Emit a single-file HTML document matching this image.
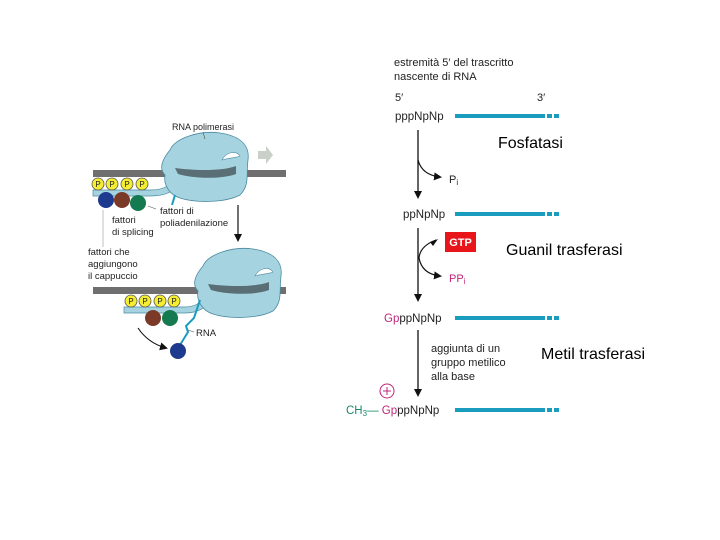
<!DOCTYPE html>
<html><head><meta charset="utf-8"><style>
html,body{margin:0;padding:0;background:#fff;}
svg{display:block;}
text{font-family:"Liberation Sans",sans-serif;}
</style></head><body>
<svg width="720" height="540" viewBox="0 0 720 540" xmlns="http://www.w3.org/2000/svg">
<defs>
<marker id="ah" markerWidth="8" markerHeight="8" refX="6" refY="4" orient="auto" markerUnits="userSpaceOnUse"><path d="M0,0 L8,4 L0,8 Z" fill="#111"/></marker>
</defs>
<!-- LEFT TOP -->
<rect x="93" y="170" width="193" height="7" fill="#6f6f6f"/>
<path d="M93,190 L150,190 C165,190 170,185 175,178 L180,182 C175,192 165,196 150,196 L93,196 Z" fill="#a6d3e0" stroke="#4a8aa0" stroke-width="0.7"/>
<path d="M170,150 C175,138 200,130 220,133 C240,136 250,145 248,160 C246,175 250,185 240,195 C225,203 195,203 180,198 C170,195 163,185 165,175 C160,170 160,162 170,150 Z" fill="#a6d3e0" stroke="#4a8aa0" stroke-width="0.8"/>
<path d="M175,168 C190,170 220,172 236,166 L236,174 C220,180 190,178 178,174 Z" fill="#5a6f75"/>
<path d="M222,160 C226,152 236,150 240,156 C236,158 228,158 222,160 Z" fill="#fff" stroke="#4a8aa0" stroke-width="0.6"/>
<path d="M175,195 L172,205" stroke="#1a9cbf" stroke-width="2"/>
<path d="M258,151 h8 v-5 l7,9 -7,9 v-5 h-8 Z" fill="#c8d0c8"/>
<text x="172" y="130" font-size="9" fill="#222">RNA polimerasi</text>
<line x1="203" y1="132" x2="205" y2="139" stroke="#555" stroke-width="0.6"/>
<g fill="#f5ee30" stroke="#555" stroke-width="0.8">
<circle cx="98" cy="184" r="6"/><circle cx="112" cy="184" r="6"/><circle cx="127" cy="184" r="6"/><circle cx="142" cy="184" r="6"/>
</g>
<g font-size="8" text-anchor="middle" fill="#222"><text x="98" y="187">P</text><text x="112" y="187">P</text><text x="127" y="187">P</text><text x="142" y="187">P</text></g>
<circle cx="106" cy="200" r="8" fill="#1d3a8f"/>
<circle cx="122" cy="200" r="8" fill="#7b3a28"/>
<circle cx="138" cy="203" r="8" fill="#167a50"/>
<line x1="148" y1="206" x2="156" y2="209" stroke="#555" stroke-width="0.6"/>
<text x="160" y="214" font-size="9.5" fill="#222"><tspan x="160">fattori di</tspan><tspan x="160" dy="12">poliadenilazione</tspan></text>
<text x="112" y="223" font-size="9.5" fill="#222"><tspan x="112">fattori</tspan><tspan x="112" dy="12">di splicing</tspan></text>
<line x1="103" y1="210" x2="103" y2="247" stroke="#999" stroke-width="0.6"/>
<text x="88" y="255" font-size="9.5" fill="#222"><tspan x="88">fattori che</tspan><tspan x="88" dy="12">aggiungono</tspan><tspan x="88" dy="12">il cappuccio</tspan></text>
<line x1="238" y1="205" x2="238" y2="240" stroke="#111" stroke-width="1.2" marker-end="url(#ah)"/>
<!-- LEFT BOTTOM -->
<rect x="93" y="287" width="193" height="7" fill="#6f6f6f"/>
<path d="M124,307 L185,307 C198,307 203,300 207,293 L212,297 C207,308 198,313 185,313 L124,313 Z" fill="#a6d3e0" stroke="#4a8aa0" stroke-width="0.7"/>
<path d="M203,266 C208,254 233,246 253,249 C273,252 283,261 281,276 C279,291 283,301 273,311 C258,319 228,319 213,314 C203,311 196,301 198,291 C193,286 193,278 203,266 Z" fill="#a6d3e0" stroke="#4a8aa0" stroke-width="0.8"/>
<path d="M208,284 C223,286 253,288 269,282 L269,290 C253,296 223,294 211,290 Z" fill="#5a6f75"/>
<path d="M255,276 C259,268 269,266 273,272 C269,274 261,274 255,276 Z" fill="#fff" stroke="#4a8aa0" stroke-width="0.6"/>
<path d="M200,300 L194,318 L186,326 L188,332 L180,345" stroke="#1a9cbf" stroke-width="2" fill="none"/>
<g fill="#f5ee30" stroke="#555" stroke-width="0.8">
<circle cx="131" cy="301" r="6"/><circle cx="145" cy="301" r="6"/><circle cx="160" cy="301" r="6"/><circle cx="174" cy="301" r="6"/>
</g>
<g font-size="8" text-anchor="middle" fill="#222"><text x="131" y="304">P</text><text x="145" y="304">P</text><text x="160" y="304">P</text><text x="174" y="304">P</text></g>
<circle cx="153" cy="318" r="8" fill="#7b3a28"/>
<circle cx="170" cy="318" r="8" fill="#167a50"/>
<circle cx="178" cy="351" r="8" fill="#1d3a8f"/>
<line x1="188" y1="330" x2="194" y2="332" stroke="#555" stroke-width="0.6"/>
<text x="196" y="336" font-size="9.5" fill="#222">RNA</text>
<path d="M138,328 Q148,343 166,348" stroke="#111" stroke-width="1.1" fill="none" marker-end="url(#ah)"/>
<!-- RIGHT -->
<text x="395" y="66" font-size="11" fill="#222"><tspan x="394">estremità 5′ del trascritto</tspan><tspan x="394" dy="14">nascente di RNA</tspan></text>
<text x="395" y="101" font-size="11" font-family="Liberation Serif" fill="#222">5′</text>
<text x="537" y="101" font-size="11" font-family="Liberation Serif" fill="#222">3′</text>
<g fill="#1a9cbf">
<rect x="455" y="114" width="90" height="4"/><rect x="547" y="114" width="5" height="4"/><rect x="554" y="114" width="5" height="4"/>
<rect x="455" y="212" width="90" height="4"/><rect x="547" y="212" width="5" height="4"/><rect x="554" y="212" width="5" height="4"/>
<rect x="455" y="316" width="90" height="4"/><rect x="547" y="316" width="5" height="4"/><rect x="554" y="316" width="5" height="4"/>
<rect x="455" y="408" width="90" height="4"/><rect x="547" y="408" width="5" height="4"/><rect x="554" y="408" width="5" height="4"/>
</g>
<text x="395" y="120" font-size="11.5" fill="#222">pppNpNp</text>
<line x1="418" y1="130" x2="418" y2="197" stroke="#111" stroke-width="1.3" marker-end="url(#ah)"/>
<path d="M418,160 Q422,175 440,177" stroke="#111" stroke-width="1.2" fill="none" marker-end="url(#ah)"/>
<text x="449" y="183" font-size="11" fill="#222">P<tspan font-size="8" dy="2">i</tspan></text>
<text x="498" y="148" font-size="16" fill="#000">Fosfatasi</text>
<text x="403" y="218" font-size="11.5" fill="#222">ppNpNp</text>
<line x1="418" y1="228" x2="418" y2="300" stroke="#111" stroke-width="1.3" marker-end="url(#ah)"/>
<rect x="445" y="232" width="31" height="20" fill="#e8151b"/>
<text x="460.5" y="246" font-size="11" font-weight="bold" fill="#fff" text-anchor="middle">GTP</text>
<path d="M436,240 Q420,246 419,258 Q422,274 440,276" stroke="#111" stroke-width="1.2" fill="none" marker-end="url(#ah)"/>
<path d="M430,242 L438,239 L433,246 Z" fill="#111"/>
<text x="449" y="282" font-size="11" fill="#c0267a">PP<tspan font-size="8" dy="2">i</tspan></text>
<text x="506" y="255" font-size="16" fill="#000">Guanil trasferasi</text>
<text x="384" y="322" font-size="11.5" fill="#222"><tspan fill="#c0267a">Gp</tspan>ppNpNp</text>
<line x1="418" y1="330" x2="418" y2="395" stroke="#111" stroke-width="1.3" marker-end="url(#ah)"/>
<text x="431" y="352" font-size="11" fill="#222"><tspan x="431">aggiunta di un</tspan><tspan x="431" dy="14">gruppo metilico</tspan><tspan x="431" dy="14">alla base</tspan></text>
<text x="541" y="359" font-size="16" fill="#000">Metil trasferasi</text>
<circle cx="387" cy="391" r="7" fill="none" stroke="#c0267a" stroke-width="1"/>
<line x1="383" y1="391" x2="391" y2="391" stroke="#c0267a" stroke-width="1"/>
<line x1="387" y1="387" x2="387" y2="395" stroke="#c0267a" stroke-width="1"/>
<text x="346" y="414" font-size="11.5" fill="#222"><tspan fill="#1a8a6a">CH<tspan font-size="8" dy="2">3</tspan><tspan dy="-2">—</tspan></tspan> <tspan fill="#c0267a">Gp</tspan>ppNpNp</text>
</svg>
</body></html>
